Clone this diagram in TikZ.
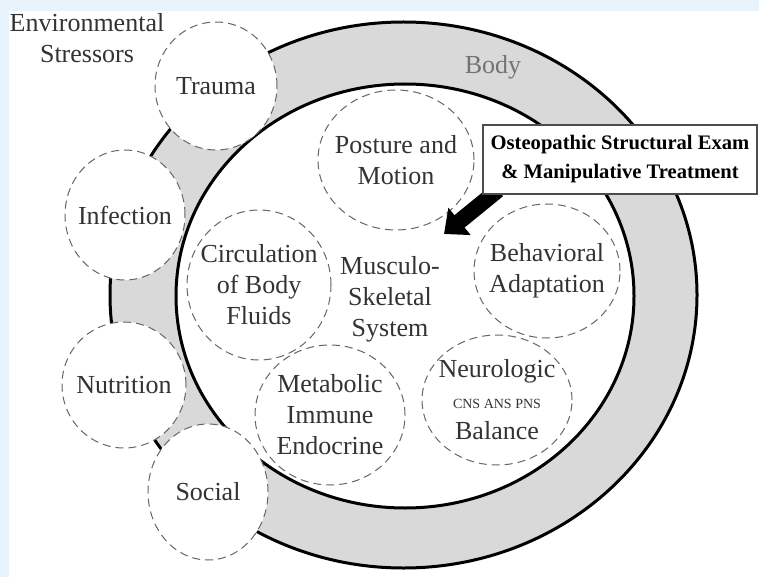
\documentclass[tikz,border=0pt]{standalone}
\usepackage{fontspec}
\setmainfont{Liberation Serif}
\usepackage{tikz}
\usetikzlibrary{shapes.geometric, arrows.meta}
\definecolor{pagebg}{RGB}{232,243,251}
\definecolor{ringgray}{RGB}{217,217,217}
\tikzstyle{stressor} = [ellipse, draw=black!60, dashed, dash pattern=on 4pt off 2.5pt, line width=0.5pt, fill=white, inner sep=0pt, text=black!80]
\tikzstyle{system} = [ellipse, draw=black!60, dash pattern=on 4pt off 2.5pt, line width=0.5pt, inner sep=0pt, text=black!80]
\tikzstyle{lbl} = [align=center, text=black!80, font=\fontsize{13}{15.5}\selectfont]
\tikzstyle{bigarrow} = [line width=8pt, -{Triangle[length=10pt,width=17pt]}]

\begin{document}
\begin{tikzpicture}[x=0.5pt, y=-0.5pt]
            \useasboundingbox (0,0) rectangle (759,577);
            \fill[pagebg] (0,0) rectangle (759,577);
            \fill[white] (9,11) rectangle (759,577);

            % body ring and the inner musculo-skeletal circle
            \node (body) [ellipse, draw, line width=1.5pt, fill=ringgray, minimum width=293.5pt, minimum height=273pt] at (403.5,295) {};
            \node (inner) [ellipse, draw, line width=1.5pt, fill=white, minimum width=229pt, minimum height=212pt] at (405,296) {};
            \node (bodylbl) [lbl, text=black!55] at (493,67) {Body};

            \node (posture) [system, minimum width=78pt, minimum height=70pt, label={[lbl]center:Posture and\\Motion}] at (396,160) {};
            \node (circulation) [system, minimum width=72pt, minimum height=75pt, label={[lbl]center:Circulation\\of Body\\Fluids}] at (259,285) {};
            \node (behavioral) [system, minimum width=73pt, minimum height=67pt, label={[lbl]center:Behavioral\\Adaptation}] at (547,271) {};
            \node (metabolic) [system, minimum width=75pt, minimum height=70pt, label={[lbl]center:Metabolic\\Immune\\Endocrine}] at (330,415) {};
            \node (neuro) [system, minimum width=75pt, minimum height=65pt, label={[lbl]center:Neurologic\\{\fontsize{7}{9}\selectfont CNS ANS PNS}\\Balance}] at (497,400) {};
            \node (msk) [lbl] at (390,299) {Musculo-\\Skeletal\\System};

            % environmental stressors
            \node (env) [lbl] at (87,38) {Environmental\\Stressors};
            \node (trauma) [stressor, minimum width=61pt, minimum height=64pt, label={[lbl]center:Trauma}] at (216,86) {};
            \node (infection) [stressor, minimum width=60pt, minimum height=65pt, label={[lbl]center:Infection}] at (125,215) {};
            \node (nutrition) [stressor, minimum width=62pt, minimum height=63pt, label={[lbl]center:Nutrition}] at (124,385) {};
            \node (social) [stressor, minimum width=60pt, minimum height=68pt, label={[lbl]center:Social}] at (208,492) {};

            % treatment box and arrow
            \coordinate (tail) at (498,190);
            \coordinate (tip) at (444,234);
            \draw [bigarrow] (tail) -- (tip);
            \node (omt) [rectangle, draw=black!70, line width=0.7pt, fill=white, align=center, minimum width=137pt, minimum height=34.5pt, inner sep=1pt, font=\bfseries\fontsize{10.3}{14.5}\selectfont] at (620,159.5) {Osteopathic Structural Exam\\\& Manipulative Treatment};
\end{tikzpicture}
\end{document}
